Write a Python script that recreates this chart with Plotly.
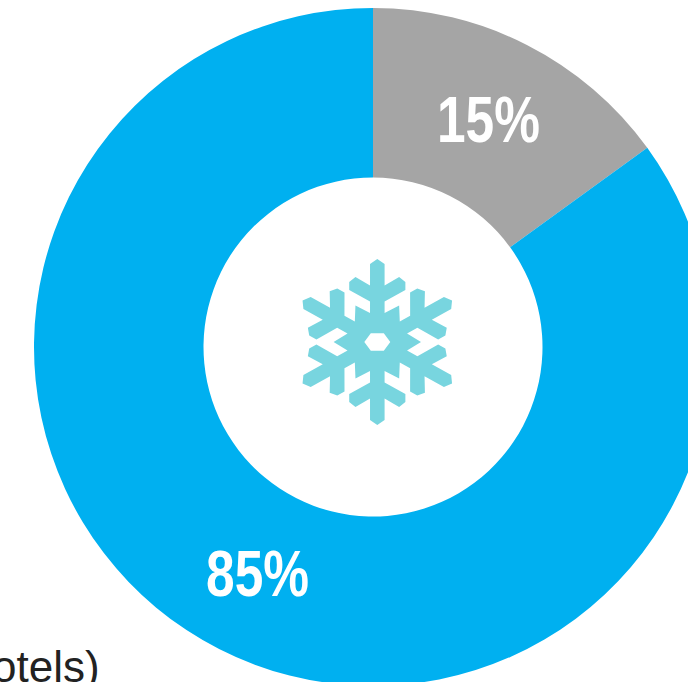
import math
import plotly.graph_objects as go

# Share of hotels by season segment
segments = ["Other", "Winter"]
shares = [15, 85]
segment_colors = ["#A5A5A5", "#00B0F0"]
caption = "(hotels)"

# Canvas is a little wider than the window so the ring runs off the right edge
WIDTH, HEIGHT = 712, 686
M_LEFT, M_TOP = 34, 8

# One snowflake arm pointing up, in pixels from the flake centre
ARM = [(-7, 29), (-7, 40.5), (-27, 52), (-27, 60), (-21, 65), (-7, 56.5), (-7, 78), (0, 83),
       (7, 78), (7, 56.5), (21, 65), (27, 60), (27, 52), (7, 40.5), (7, 29), (21, 36.4)]
HOLE_RADIUS = 12.5
X_STRETCH = 1.04


def rotated(points, degrees):
    a = math.radians(degrees)
    return [(x * math.cos(a) + y * math.sin(a), -x * math.sin(a) + y * math.cos(a)) for x, y in points]


def to_path(points):
    cmds = [f"{'M' if i == 0 else 'L'}{x * X_STRETCH:.2f},{y:.2f}" for i, (x, y) in enumerate(points)]
    return " ".join(cmds) + " Z"


outline = [p for k in range(6) for p in rotated(ARM, 60 * k)]
hexagon = [(HOLE_RADIUS * math.cos(math.radians(60 * k)), HOLE_RADIUS * 0.8 * math.sin(math.radians(60 * k)))
           for k in range(6)]
flake_path = to_path(outline) + " " + to_path(hexagon)

flake_x = (377.3 - M_LEFT) / (WIDTH - M_LEFT)
flake_y = 1 - (342 - M_TOP) / (HEIGHT - M_TOP)

fig = go.Figure(
    go.Pie(
        labels=segments,
        values=shares,
        hole=0.5,
        sort=False,
        direction="clockwise",
        rotation=0,
        marker=dict(colors=segment_colors, line=dict(width=0)),
        textinfo="percent",
        textposition="inside",
        insidetextorientation="horizontal",
        insidetextfont=dict(family="Liberation Sans", size=64, color="white", weight=700),
        texttemplate="%{percent:.0%}",
        hoverinfo="label+percent",
        showlegend=False,
    )
)

fig.add_shape(
    type="path",
    path=flake_path,
    xref="paper",
    yref="paper",
    xsizemode="pixel",
    ysizemode="pixel",
    xanchor=flake_x,
    yanchor=flake_y,
    fillcolor="#78D5DF",
    fillrule="evenodd",
    line=dict(width=0),
)

fig.add_annotation(
    text=caption,
    xref="paper",
    yref="paper",
    x=(102 - M_LEFT) / (WIDTH - M_LEFT),
    y=1 - (666 - M_TOP) / (HEIGHT - M_TOP),
    xanchor="right",
    yanchor="middle",
    showarrow=False,
    font=dict(family="Liberation Sans", size=44, color="#222222"),
)

fig.update_layout(
    width=WIDTH,
    height=HEIGHT,
    autosize=False,
    margin=dict(l=M_LEFT, r=0, t=M_TOP, b=0, pad=0),
    paper_bgcolor="white",
    plot_bgcolor="white",
)

# Condense the bold slice labels, since no narrow bold face is installed
condense_labels = """
var narrow = function () {
  document.querySelectorAll('.slicetext text').forEach(function (t) {
    t.setAttribute('textLength', '103');
    t.setAttribute('lengthAdjust', 'spacingAndGlyphs');
  });
};
narrow();
requestAnimationFrame(narrow);
document.documentElement.style.overflow = 'hidden';
document.body.style.overflow = 'hidden';
"""

fig.write_html("out.html", config={"displayModeBar": False}, post_script=condense_labels)
